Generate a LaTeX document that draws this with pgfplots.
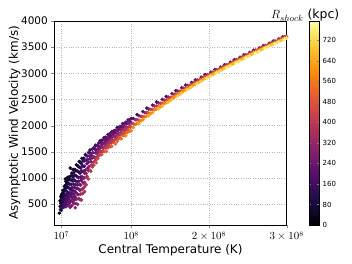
\documentclass[border=0pt]{standalone}
\usepackage{pgfplots}
\usepackage{pgfplotstable}
\pgfplotsset{compat=1.18}
\usepackage{fontspec}
\setmainfont{DejaVu Sans}

\pgfplotstableread{
T v R
0.75e7 325 15
0.85e7 567 22
0.85e7 455 55
0.9e7 545 40
0.9e7 395 88
0.95e7 650 15
0.95e7 512 60
1.0e7 620 40
1.0e7 470 90
1.0e7 380 118
1.05e7 684 28
1.05e7 559 72
1.05e7 434 116
1.1e7 622 60
1.1e7 524 97
1.15e7 706 38
1.15e7 485 126
1.2e7 760 20
1.2e7 619 85
1.2e7 442 150
1.25e7 707 60
1.25e7 578 115
1.3e7 762 43
1.3e7 667 78
1.3e7 534 126
1.3e7 439 160
1.35e7 749 60
1.35e7 587 118
1.4e7 838 38
1.4e7 667 100
1.4e7 495 160
1.45e7 755 80
1.45e7 598 135
1.5e7 980 28
1.5e7 802 72
1.5e7 661 123
1.5e7 497 183
1.55e7 866 58
1.55e7 573 162
1.6e7 934 40
1.6e7 756 104
1.6e7 603 158
1.6e7 450 210
1.65e7 841 80
1.65e7 684 135
1.7e7 931 53
1.7e7 743 120
1.7e7 529 196
1.75e7 832 94
1.75e7 639 162
1.8e7 1010 36
1.8e7 897 76
1.8e7 727 136
1.8e7 558 196
1.85e7 818 110
1.85e7 473 232
1.9e7 971 60
1.9e7 678 164
1.95e7 890 92
1.95e7 591 200
2.0e7 1020 50
2.0e7 806 128
2.0e7 623 194
2.0e7 501 238
2.05e7 968 74
2.05e7 719 167
2.1e7 882 109
2.1e7 533 231
2.15e7 1190 45
2.15e7 792 144
2.15e7 437 268
2.2e7 962 90
2.2e7 666 195
2.25e7 1038 68
2.25e7 770 162
2.25e7 569 233
2.3e7 877 129
2.3e7 639 213
2.35e7 1092 59
2.35e7 711 192
2.35e7 468 276
2.4e7 962 109
2.4e7 820 158
2.45e7 1041 86
2.45e7 610 234
2.5e7 1160 50
2.5e7 941 125
2.5e7 759 188
2.5e7 540 262
2.55e7 1022 102
2.55e7 689 215
2.6e7 1105 78
2.6e7 880 154
2.6e7 505 282
2.65e7 962 131
2.65e7 658 234
2.7e7 1162 67
2.7e7 815 185
2.7e7 584 264
2.75e7 1054 108
2.75e7 742 214
2.8e7 944 150
2.8e7 628 257
2.8e7 430 324
2.85e7 1150 84
2.85e7 870 179
2.9e7 1038 126
2.9e7 714 236
2.9e7 511 305
2.95e7 1250 59
2.95e7 799 211
3.0e7 1136 102
3.0e7 928 172
3.0e7 596 284
3.05e7 1021 146
3.05e7 689 258
3.1e7 1237 76
3.1e7 865 204
3.1e7 493 332
3.15e7 1122 120
3.15e7 793 235
3.2e7 1214 93
3.2e7 1008 165
3.2e7 679 280
3.25e7 936 196
3.25e7 608 311
3.3e7 1314 66
3.3e7 1110 139
3.3e7 782 256
3.35e7 1201 111
3.35e7 874 229
3.35e7 589 332
3.4e7 1088 157
3.4e7 762 275
3.45e7 1300 84
3.45e7 1016 188
3.45e7 691 307
3.5e7 1188 130
3.5e7 864 250
3.5e7 581 355
3.55e7 1278 101
3.55e7 959 222
3.6e7 1130 163
3.6e7 777 300
3.6e7 580 376
3.65e7 1374 73
3.65e7 1026 211
3.7e7 1230 136
3.7e7 925 259
3.7e7 696 351
3.75e7 1127 184
3.75e7 790 323
3.8e7 1324 107
3.8e7 992 248
3.85e7 1224 156
3.85e7 898 297
3.85e7 716 375
3.9e7 1378 94
3.9e7 1128 204
3.95e7 1001 270
3.95e7 825 349
4.0e7 1327 180
4.0e7 1223 176
4.0e7 1085 240
4.0e7 913 320
4.0e7 740 400
4.1e7 1446 81
4.1e7 1150 227
4.1e7 887 356
4.2e7 1337 200
4.2e7 1086 279
4.2e7 867 394
4.3e7 1419 170
4.3e7 1270 199
4.3e7 1033 332
4.4e7 1354 215
4.4e7 1185 269
4.4e7 988 386
4.5e7 1484 150
4.5e7 1298 221
4.5e7 1139 323
4.5e7 980 425
4.6e7 1420 205
4.6e7 1217 292
4.7e7 1534 140
4.7e7 1364 209
4.7e7 1145 365
4.8e7 1476 195
4.8e7 1314 264
4.8e7 1128 405
4.9e7 1425 240
4.9e7 1249 338
5.0e7 1549 160
5.0e7 1381 252
5.0e7 1213 396
5.1e7 1483 230
5.1e7 1300 344
5.2e7 1578 165
5.2e7 1402 274
5.2e7 1245 419
5.3e7 1555 200
5.3e7 1385 310
5.4e7 1626 150
5.4e7 1480 241
5.4e7 1335 389
5.5e7 1535 205
5.5e7 1395 351
5.5e7 1290 465
5.6e7 1620 190
5.6e7 1483 282
5.7e7 1601 225
5.7e7 1451 339
5.7e7 1367 430
5.8e7 1666 170
5.8e7 1552 248
5.8e7 1421 399
5.9e7 1601 214
5.9e7 1505 325
6.0e7 1710 100
6.0e7 1571 270
6.0e7 1447 423
6.1e7 1676 210
6.1e7 1507 371
6.2e7 1719 175
6.2e7 1628 227
6.2e7 1445 467
6.3e7 1671 245
6.3e7 1580 307
6.3e7 1505 396
6.4e7 1728 195
6.4e7 1564 356
6.5e7 1770 160
6.5e7 1651 263
6.5e7 1503 459
6.6e7 1723 235
6.6e7 1604 341
6.7e7 1779 180
6.7e7 1690 243
6.7e7 1571 403
6.8e7 1761 220
6.8e7 1657 306
6.8e7 1508 504
6.9e7 1728 230
6.9e7 1609 388
7.0e7 1830 165
7.0e7 1695 290
7.0e7 1575 450
7.1e7 1781 240
7.1e7 1662 356
7.2e7 1822 205
7.2e7 1748 253
7.2e7 1614 435
7.3e7 1848 185
7.3e7 1700 337
7.3e7 1596 475
7.4e7 1800 216
7.4e7 1667 400
7.5e7 1885 170
7.5e7 1767 279
7.5e7 1605 503
7.6e7 1852 230
7.6e7 1720 363
7.7e7 1819 242
7.7e7 1687 427
7.8e7 1903 190
7.8e7 1787 306
7.8e7 1670 471
7.9e7 1871 203
7.9e7 1740 388
8.0e7 1911 215
8.0e7 1795 330
8.0e7 1650 540
8.1e7 1850 268
8.1e7 1734 434
8.2e7 1962 122
8.2e7 1804 356
8.2e7 1703 503
8.3e7 1901 228
8.3e7 1772 412
8.4e7 1941 240
8.4e7 1855 316
8.4e7 1755 466
8.5e7 1981 195
8.5e7 1824 383
8.6e7 1921 255
8.6e7 1765 494
8.7e7 1989 220
8.7e7 1876 345
8.7e7 1748 541
8.8e7 1972 215
8.8e7 1845 411
8.9e7 2039 180
8.9e7 1927 306
8.9e7 1814 484
9.0e7 1980 239
9.0e7 1854 439
9.1e7 2032 225
9.1e7 1907 376
9.1e7 1810 532
9.2e7 1973 286
9.2e7 1863 464
9.3e7 2066 200
9.3e7 1957 332
9.3e7 1806 579
9.4e7 2036 220
9.4e7 1927 401
9.5e7 2060 245
9.5e7 1965 356
9.5e7 1871 513
9.6e7 2110 185
9.6e7 1922 451
9.7e7 2040 268
9.7e7 1907 494
9.8e7 2104 225
9.8e7 1985 398
9.8e7 1892 548
9.9e7 2075 246
9.9e7 1970 430
10.0e7 2137 200
10.0e7 2046 318
10.0e7 1903 577
10.25e7 2136 178
10.25e7 2035 415
10.25e7 1965 581
10.5e7 2113 300
10.5e7 2024 515
10.75e7 2209 134
10.75e7 2112 375
10.75e7 2044 543
11.0e7 2188 257
11.0e7 2102 475
11.0e7 2045 620
11.25e7 2176 357
11.25e7 2093 576
11.5e7 2267 187
11.5e7 2176 433
11.5e7 2112 605
11.75e7 2247 313
11.75e7 2167 536
12.0e7 2335 141
12.0e7 2248 390
12.0e7 2186 565
12.25e7 2316 268
12.25e7 2239 494
12.25e7 2188 645
12.5e7 2307 372
12.5e7 2232 599
12.75e7 2390 196
12.75e7 2308 451
12.75e7 2250 630
13.0e7 2374 326
13.0e7 2302 557
13.25e7 2451 148
13.25e7 2373 406
13.25e7 2318 587
13.5e7 2434 279
13.5e7 2365 514
13.5e7 2319 670
13.75e7 2427 387
13.75e7 2359 623
14.0e7 2500 205
14.0e7 2427 469
14.0e7 2375 654
14.25e7 2486 339
14.25e7 2421 579
14.5e7 2558 155
14.5e7 2488 423
14.5e7 2438 610
14.75e7 2545 291
14.75e7 2482 533
14.75e7 2441 695
15.0e7 2539 402
15.0e7 2479 646
15.25e7 2610 213
15.25e7 2544 485
15.25e7 2499 676
15.5e7 2600 351
15.5e7 2543 596
15.75e7 2668 162
15.75e7 2606 435
15.75e7 2563 626
16.0e7 2660 300
16.0e7 2606 546
16.0e7 2570 710
16.25e7 2658 411
16.25e7 2605 658
16.5e7 2722 221
16.5e7 2664 495
16.5e7 2624 688
16.75e7 2714 360
16.75e7 2664 608
17.0e7 2775 169
17.0e7 2720 445
17.0e7 2682 637
17.25e7 2768 308
17.25e7 2719 557
17.25e7 2687 723
17.5e7 2768 420
17.5e7 2721 670
17.75e7 2825 229
17.75e7 2773 506
17.75e7 2737 700
18.0e7 2820 369
18.0e7 2775 619
18.25e7 2875 175
18.25e7 2826 454
18.25e7 2792 649
18.5e7 2871 317
18.5e7 2829 568
18.5e7 2800 735
18.75e7 2873 430
18.75e7 2831 682
19.0e7 2926 236
19.0e7 2881 516
19.0e7 2850 712
19.25e7 2923 378
19.25e7 2884 631
19.5e7 2973 182
19.5e7 2930 464
19.5e7 2900 661
19.75e7 2970 325
19.75e7 2932 579
19.75e7 2907 748
20.0e7 2973 439
20.0e7 2936 694
20.25e7 3022 243
20.25e7 2981 526
20.25e7 2952 724
20.5e7 3022 386
20.5e7 2985 640
20.75e7 3070 189
20.75e7 3030 472
20.75e7 3001 670
21.0e7 3070 332
21.0e7 3034 587
21.0e7 3010 756
21.25e7 3073 447
21.25e7 3037 701
21.5e7 3120 250
21.5e7 3081 533
21.5e7 3053 731
21.75e7 3118 393
21.75e7 3083 648
22.0e7 3165 196
22.0e7 3126 479
22.0e7 3099 677
22.25e7 3165 339
22.25e7 3129 594
22.25e7 3106 764
22.5e7 3168 454
22.5e7 3133 708
22.75e7 3213 257
22.75e7 3175 540
22.75e7 3148 739
23.0e7 3213 400
23.0e7 3178 655
23.25e7 3259 203
23.25e7 3221 487
23.25e7 3194 685
23.5e7 3259 346
23.5e7 3224 601
23.5e7 3201 771
23.75e7 3262 461
23.75e7 3228 716
24.0e7 3307 264
24.0e7 3269 547
24.0e7 3243 746
24.25e7 3307 407
24.25e7 3273 662
24.5e7 3352 210
24.5e7 3315 494
24.5e7 3288 692
24.75e7 3352 353
24.75e7 3319 609
24.75e7 3296 779
25.0e7 3356 468
25.0e7 3323 723
25.25e7 3401 271
25.25e7 3364 554
25.25e7 3338 752
25.5e7 3399 413
25.5e7 3366 668
25.75e7 3443 217
25.75e7 3407 499
25.75e7 3381 696
26.0e7 3442 359
26.0e7 3410 613
26.0e7 3388 782
26.25e7 3446 472
26.25e7 3413 726
26.5e7 3488 277
26.5e7 3452 558
26.5e7 3428 755
26.75e7 3488 418
26.75e7 3456 671
27.0e7 3530 224
27.0e7 3495 504
27.0e7 3471 700
27.25e7 3531 365
27.25e7 3500 618
27.25e7 3479 785
27.5e7 3534 478
27.5e7 3503 729
27.75e7 3576 284
27.75e7 3542 563
27.75e7 3518 758
28.0e7 3577 424
28.0e7 3546 675
28.25e7 3616 230
28.25e7 3583 509
28.25e7 3559 703
28.5e7 3617 371
28.5e7 3587 621
28.5e7 3567 787
28.75e7 3619 483
28.75e7 3590 733
29.0e7 3659 290
29.0e7 3626 567
29.0e7 3603 760
29.25e7 3659 430
29.25e7 3630 678
29.5e7 3698 237
29.5e7 3666 513
29.5e7 3644 706
29.75e7 3698 377
29.75e7 3670 625
29.75e7 3651 790
30.0e7 3702 488
30.0e7 3674 735
}\datatable

\begin{document}
\begin{tikzpicture}
\begin{axis}[
  name=ax,
  scale only axis,
  width=232.4bp, height=204bp,
  xmin=1e6, xmax=3e8,
  ymin=100, ymax=4000,
  xtick={1e7,1e8,2e8,3e8},
  xticklabels={$10^{7}$,$10^{8}$,$2\times10^{8}$,$3\times10^{8}$},
  ytick={500,1000,...,4000},
  scaled x ticks=false, scaled y ticks=false,
  yticklabel style={/pgf/number format/.cd,1000 sep={},assume math mode=true},
  ticklabel style={font=\fontsize{10.5}{12}\selectfont},
  grid=major,
  grid style={dotted, gray!55, line width=0.5pt},
  tick align=outside, tick pos=left,
  major tick length=3bp,
  axis line style={line width=0.8pt},
  xlabel={Central Temperature (K)},
  ylabel={Asymptotic Wind Velocity (km/s)},
  label style={font=\fontsize{12}{14}\selectfont},
  xlabel style={yshift=3bp},
  ylabel style={yshift=-6bp},
  colormap={inferno}{rgb255=(0,0,4) rgb255=(31,12,72) rgb255=(85,15,109) rgb255=(136,34,106) rgb255=(186,54,85) rgb255=(227,89,51) rgb255=(249,140,10) rgb255=(249,201,50) rgb255=(252,255,164)},
  point meta=explicit,
  point meta min=0, point meta max=795,
  colorbar,
  colorbar style={
    at={(parent axis.north east)}, anchor=north west, xshift=14bp,
    width=10bp,
    ytick={0,80,...,720},
    yticklabel style={font=\fontsize{7}{8}\selectfont,/pgf/number format/assume math mode=true},
    tick align=inside, major tick length=2bp,
    axis line style={line width=0.5pt},
    title={$R_{shock}$ (kpc)},
    title style={font=\fontsize{12.5}{14}\selectfont, yshift=-10bp, xshift=-9bp},
  },
]
\addplot[scatter, only marks, mark=*, mark size=1.6pt,
  scatter/use mapped color={draw=mapped color, fill=mapped color}]
  table[x=T, y=v, meta=R] {\datatable};
\end{axis}
\pgfresetboundingbox
\path ([shift={(-54.3bp,-39bp)}]ax.south west) rectangle ([shift={(65.3bp,21bp)}]ax.north east);
\end{tikzpicture}
\end{document}
